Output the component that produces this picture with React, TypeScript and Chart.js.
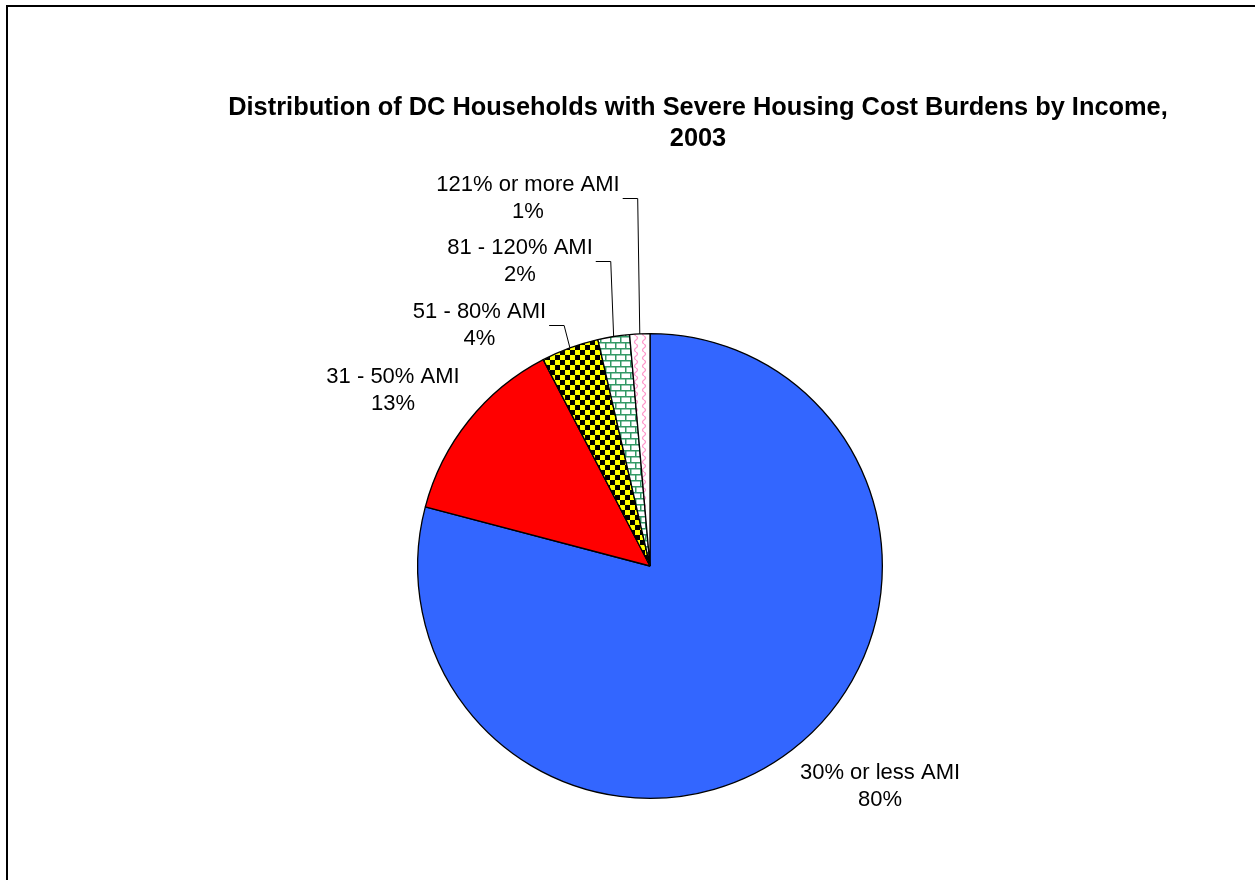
import React, { useEffect, useRef } from "react";
import { Chart, registerables } from "chart.js";

Chart.register(...registerables);

// ---- data ----
const categories = ["30% or less AMI", "31 - 50% AMI", "51 - 80% AMI", "81 - 120% AMI", "121% or more AMI"];
const shares = [79.1, 13.3, 4.0, 2.2, 1.4];
const percentLabels = ["80%", "13%", "4%", "2%", "1%"];
const titleLines = ["Distribution of DC Households with Severe Housing Cost Burdens by Income,", "2003"];

// ---- layout (label anchors, not data) ----
const labelCenters = [
  { x: 880, y: 773, leader: false },
  { x: 393, y: 377, leader: false },
  { x: 479.5, y: 312, leader: true },
  { x: 520, y: 248, leader: true },
  { x: 528, y: 185, leader: true },
];

const FONT = '"Liberation Sans", Arial, sans-serif';

function makePattern(kind: string): CanvasPattern | string {
  const c = document.createElement("canvas");
  const g = c.getContext("2d")!;
  if (kind === "checker") {
    c.width = 10; c.height = 10;
    g.fillStyle = "#FFFF00"; g.fillRect(0, 0, 10, 10);
    g.fillStyle = "#000000"; g.fillRect(0, 0, 5, 5); g.fillRect(5, 5, 5, 5);
  } else if (kind === "brick") {
    c.width = 10; c.height = 12;
    g.fillStyle = "#ffffff"; g.fillRect(0, 0, 10, 12);
    g.fillStyle = "#339966";
    g.fillRect(0, 0, 10, 1.5);
    g.fillRect(0, 6, 10, 1.5);
    g.fillRect(0, 0, 1.5, 6);
    g.fillRect(5, 6, 1.5, 6);
  } else {
    c.width = 8; c.height = 8;
    g.fillStyle = "#ffffff"; g.fillRect(0, 0, 8, 8);
    g.strokeStyle = "#FF99CC"; g.lineWidth = 1.3;
    g.beginPath();
    g.moveTo(4, 0);
    g.quadraticCurveTo(7, 2, 4, 4);
    g.quadraticCurveTo(1, 6, 4, 8);
    g.stroke();
  }
  return g.createPattern(c, "repeat") || "#ffffff";
}

const decorPlugin = {
  id: "decor",
  afterDraw(chart: any) {
    const ctx = chart.ctx as CanvasRenderingContext2D;
    ctx.save();
    // frame
    ctx.fillStyle = "#000";
    ctx.fillRect(6, 5, 2, 880);
    ctx.fillRect(6, 5, 1255, 2);
    // title
    ctx.textAlign = "center";
    ctx.textBaseline = "middle";
    ctx.font = `bold 25.4px ${FONT}`;
    ctx.fillText(titleLines[0], 698, 108);
    ctx.fillText(titleLines[1], 698, 139);
    // labels
    ctx.font = `22px ${FONT}`;
    const meta = chart.getDatasetMeta(0);
    meta.data.forEach((arc: any, i: number) => {
      const pos = labelCenters[i];
      ctx.fillStyle = "#000";
      ctx.fillText(categories[i], pos.x, pos.y);
      ctx.fillText(percentLabels[i], pos.x, pos.y + 27);
      if (pos.leader) {
        const w = ctx.measureText(categories[i]).width;
        const sx = pos.x + w / 2 + 3;
        const sy = pos.y + 13;
        const mid = (arc.startAngle + arc.endAngle) / 2;
        const ex = arc.x + Math.cos(mid) * arc.outerRadius;
        const ey = arc.y + Math.sin(mid) * arc.outerRadius;
        ctx.strokeStyle = "#000";
        ctx.lineWidth = 1;
        ctx.beginPath();
        ctx.moveTo(sx, sy + 0.5);
        ctx.lineTo(sx + 15, sy + 0.5);
        ctx.lineTo(ex, ey);
        ctx.stroke();
      }
    });
    ctx.restore();
  },
};

export default function App() {
  const ref = useRef<HTMLCanvasElement>(null);
  useEffect(() => {
    const fills = ["#3366FF", "#FF0000", makePattern("checker"), makePattern("brick"), makePattern("wave")];
    const chart = new Chart(ref.current!, {
      type: "pie",
      data: {
        labels: categories,
        datasets: [
          {
            data: shares,
            backgroundColor: fills as any,
            borderColor: "#000000",
            borderWidth: 1.3,
            hoverOffset: 0,
          },
        ],
      },
      options: {
        responsive: false,
        animation: false,
        events: [],
        layout: { padding: { left: 417, right: 372, top: 333, bottom: 81 } },
        plugins: {
          legend: { display: false },
          tooltip: { enabled: false },
          title: { display: false },
        },
      },
      plugins: [decorPlugin],
    });
    return () => chart.destroy();
  }, []);
  return (
    <div style={{ position: "absolute", left: 0, top: 0, width: 1255, height: 880, background: "#fff" }}>
      <canvas ref={ref} width={1255} height={880} style={{ width: 1255, height: 880, display: "block" }} />
    </div>
  );
}
